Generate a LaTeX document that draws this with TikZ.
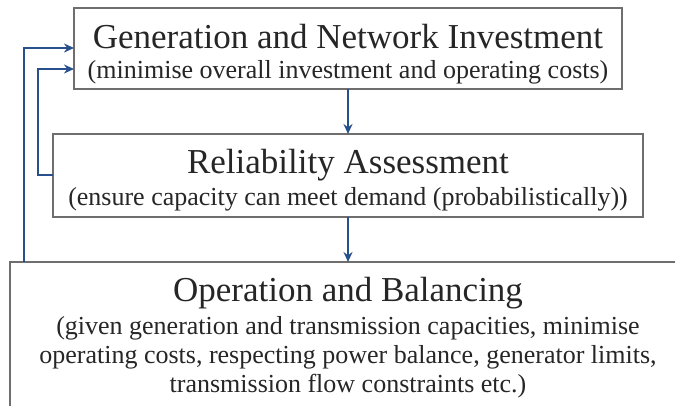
\documentclass[tikz,border=0pt]{standalone}
\usepackage{fontspec}
\setmainfont{Liberation Serif}
\usetikzlibrary{arrows.meta}
\definecolor{boxline}{RGB}{110,110,110}
\definecolor{flow}{RGB}{40,80,140}
\begin{document}
\begin{tikzpicture}[x=1pt,y=-1pt,
  stage/.style={draw=boxline,line width=1.1pt,fill=white,rectangle,inner sep=0pt},
  headline/.style={font=\fontsize{35}{40}\selectfont,text=black!85,anchor=base,inner sep=0pt},
  remark/.style={font=\fontsize{26}{29}\selectfont,text=black!85,anchor=base,inner sep=0pt,align=center},
  link/.style={draw=flow,line width=2pt,-{Stealth[length=10pt,width=9pt]}}]
\useasboundingbox (0,0) rectangle (675,405);
\begin{scope}
\clip (0,0) rectangle (675,405);
% three planning stages
\node[stage,minimum width=548pt,minimum height=81pt] (invest) at (348,48.5) {};
\node[stage,minimum width=590pt,minimum height=83pt] (reliab) at (348,175.5) {};
\node[stage,minimum width=700pt,minimum height=180pt] (operate) at (360,352) {};
% texts
\node[headline] (t1) at (348,48) {Generation and Network Investment};
\node[remark] (s1) at (348,78) {(minimise overall investment and operating costs)};
\node[headline] (t2) at (348,173) {Reliability Assessment};
\node[remark] (s2) at (348,205) {(ensure capacity can meet demand (probabilistically))};
\node[headline] (t3) at (348,301) {Operation and Balancing};
\node[remark,anchor=north] (s3) at (348,316) {(given generation and transmission capacities, minimise\\operating costs, respecting power balance, generator limits,\\transmission flow constraints etc.)};
% downward flow
\coordinate (d1) at (348,89);
\coordinate (d2) at (348,134);
\coordinate (d3) at (348,217);
\coordinate (d4) at (348,262);
\draw[link] (d1) -- (d2);
\draw[link] (d3) -- (d4);
% feedback loops
\coordinate (f1) at (24,262);
\coordinate (f2) at (74,48);
\coordinate (g1) at (53,175);
\coordinate (g2) at (74,69);
\draw[link] (f1) |- (f2);
\draw[link] (g1) -| (38,120) |- (g2);
\end{scope}
\end{tikzpicture}
\end{document}
